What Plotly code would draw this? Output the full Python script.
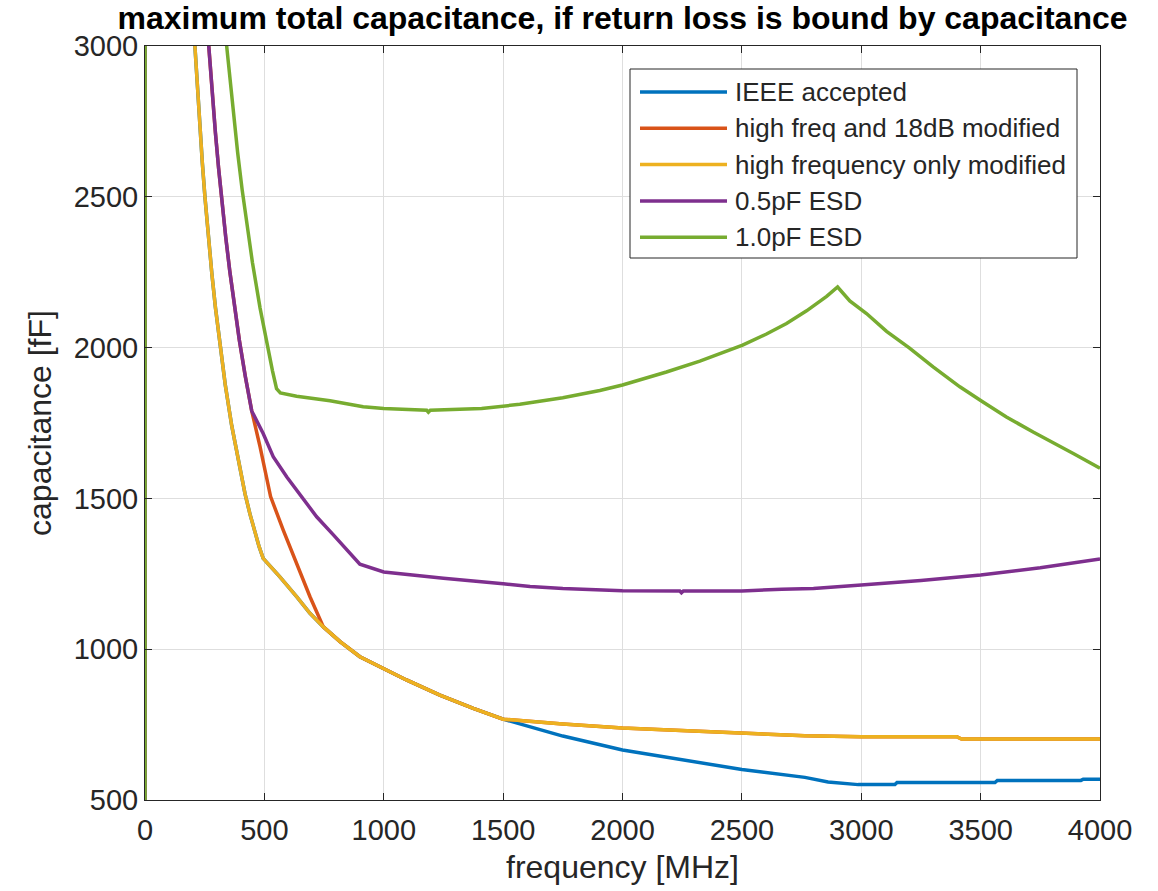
import plotly.graph_objects as go

# ---------------- data ----------------
series_names = ["IEEE accepted", "high freq and 18dB modified",
                "high frequency only modified", "0.5pF ESD", "1.0pF ESD"]

f_ieee = [0, 10, 209, 220, 230, 240, 251, 265, 280, 295, 311, 336, 363, 390, 419, 440, 460, 478, 495,
          565, 635, 691, 747, 817, 900, 1000, 1095, 1235, 1375, 1500, 1750, 2000, 2250, 2500, 2764,
          2861, 2987, 3141, 3150, 3560, 3570, 3920, 3930, 4000]
c_ieee = [0, 62700, 3000, 2850, 2727, 2614, 2500, 2370, 2245, 2133, 2025, 1878, 1742, 1625, 1515, 1447, 1388, 1340, 1301,
          1240, 1174, 1119, 1074, 1025, 975, 936, 898, 848, 804, 768, 712, 666, 633, 601, 575,
          560, 551, 551, 558, 558, 565, 565, 569, 569]

f_hf18 = [0, 10, 267, 282, 295, 308, 321, 338, 355, 375, 395, 420, 447, 482, 526, 579, 635, 691, 747,
          817, 900, 1000, 1095, 1235, 1375, 1500, 1750, 2000, 2250, 2500, 2764,
          3000, 3400, 3420, 4000]
c_hf18 = [0, 80000, 3000, 2837, 2712, 2597, 2492, 2367, 2254, 2133, 2025, 1905, 1790, 1671, 1506, 1395, 1285, 1174, 1074,
          1025, 975, 936, 898, 848, 804, 768, 752, 739, 730, 721, 713,
          710, 710, 702, 702]

f_hfonly = [0, 10, 209, 220, 230, 240, 251, 265, 280, 295, 311, 336, 363, 390, 419, 440, 460, 478, 495,
            565, 635, 691, 747, 817, 900, 1000, 1095, 1235, 1375, 1500, 1750, 2000, 2250, 2500, 2764,
            3000, 3400, 3420, 4000]
c_hfonly = [0, 62700, 3000, 2850, 2727, 2614, 2500, 2370, 2245, 2133, 2025, 1878, 1742, 1625, 1515, 1447, 1388, 1340, 1301,
            1240, 1174, 1119, 1074, 1025, 975, 936, 898, 848, 804, 768, 752, 739, 730, 721, 713,
            710, 710, 702, 702]

f_esd05 = [0, 10, 267, 282, 295, 308, 321, 338, 355, 375, 395, 420, 447, 495, 537, 594, 650, 719, 789, 859, 900,
           1000, 1250, 1500, 1613, 1750, 2000, 2240, 2247, 2255, 2500, 2667, 2800,
           3000, 3250, 3500, 3750, 4000]
c_esd05 = [0, 80000, 3000, 2837, 2712, 2597, 2492, 2367, 2254, 2133, 2025, 1905, 1790, 1715, 1638, 1571, 1511, 1439, 1379, 1317, 1282,
           1256, 1235, 1217, 1208, 1201, 1194, 1193, 1187, 1193, 1193, 1199, 1201,
           1213, 1228, 1246, 1270, 1299]

f_esd10 = [0, 10, 342, 356, 370, 388, 407, 428, 450, 482, 516, 534, 551, 567, 635, 775, 914, 1000, 1180, 1187, 1195,
           1410, 1570, 1613, 1750, 1905, 2000, 2184, 2324, 2503, 2603, 2687, 2771, 2855,
           2901, 2952, 3022, 3106, 3201, 3301, 3413, 3505, 3608, 3720, 3776, 3890, 4000]
c_esd10 = [0, 102700, 3000, 2885, 2776, 2647, 2523, 2400, 2282, 2131, 1990, 1923, 1864, 1850, 1839, 1824, 1804, 1798, 1792, 1786, 1792,
           1798, 1812, 1817, 1834, 1858, 1876, 1919, 1955, 2008, 2045, 2080, 2122, 2170,
           2201, 2155, 2113, 2054, 1999, 1936, 1870, 1822, 1770, 1720, 1697, 1648, 1600]

x_ticks = [0, 500, 1000, 1500, 2000, 2500, 3000, 3500, 4000]
y_ticks = [500, 1000, 1500, 2000, 2500, 3000]

# ---------------- style ----------------
colors = ["#0072BD", "#D95319", "#EDB120", "#7E2F8E", "#77AC30"]
FONT = "Liberation Sans, Arial, Helvetica, sans-serif"
INK = "#262626"
LW = 3.5

W, H = 1158, 891
ML, MR, MT, MB = 145, 58, 46, 91
PW, PH = W - ML - MR, H - MT - MB

xs = [f_ieee, f_hf18, f_hfonly, f_esd05, f_esd10]
ys = [c_ieee, c_hf18, c_hfonly, c_esd05, c_esd10]

fig = go.Figure()
for name, x, y, col in zip(series_names, xs, ys, colors):
    fig.add_trace(go.Scatter(x=x, y=y, mode="lines", name=name,
                             line=dict(color=col, width=LW), showlegend=False))

axis_common = dict(
    ticks="inside", ticklen=7, tickwidth=1, tickcolor=INK,
    showline=True, linecolor=INK, linewidth=1, mirror="ticks",
    showgrid=True, gridcolor="#dedede", gridwidth=1, zeroline=False,
    tickfont=dict(family=FONT, size=29, color=INK),
)

fig.update_layout(
    width=W, height=H,
    margin=dict(l=ML, r=MR, t=MT, b=MB, pad=0),
    paper_bgcolor="white", plot_bgcolor="white",
    font=dict(family=FONT, color=INK),
    title=dict(text="<b>maximum total capacitance, if return loss is bound by capacitance</b>",
               x=0.5, xref="paper", xanchor="center",
               y=1 - 18 / H, yref="container", yanchor="middle",
               font=dict(family=FONT, size=32, color="black")),
    xaxis=dict(range=[0, 4000], tickvals=x_ticks, ticktext=[str(v) for v in x_ticks],
               ticklabelstandoff=4,
               title=dict(text="frequency [MHz]", font=dict(family=FONT, size=32, color=INK), standoff=10),
               **axis_common),
    yaxis=dict(range=[500, 3000], tickvals=y_ticks, ticktext=[str(v) for v in y_ticks],
               title=dict(text="capacitance [fF]", font=dict(family=FONT, size=32, color=INK), standoff=12),
               **axis_common),
    showlegend=False,
)

# ---------------- custom legend (MATLAB style) ----------------
def px(xp):
    return (xp - ML) / PW

def py(yp):
    return (H - MB - yp) / PH

box_l, box_r, box_t, box_b = 630, 1077, 69, 258
fig.add_shape(type="rect", xref="paper", yref="paper",
              x0=px(box_l), x1=px(box_r), y0=py(box_b), y1=py(box_t),
              line=dict(color=INK, width=1), fillcolor="white", layer="above")
row0, drow = 92, 36.3
for i, (name, col) in enumerate(zip(series_names, colors)):
    yy = row0 + i * drow
    fig.add_shape(type="line", xref="paper", yref="paper",
                  x0=px(640), x1=px(727), y0=py(yy), y1=py(yy),
                  line=dict(color=col, width=LW), layer="above")
    fig.add_annotation(xref="paper", yref="paper", x=px(733), y=py(yy),
                       text=name, showarrow=False, xanchor="left", yanchor="middle",
                       font=dict(family=FONT, size=26, color=INK))

fig.write_html("out.html")
